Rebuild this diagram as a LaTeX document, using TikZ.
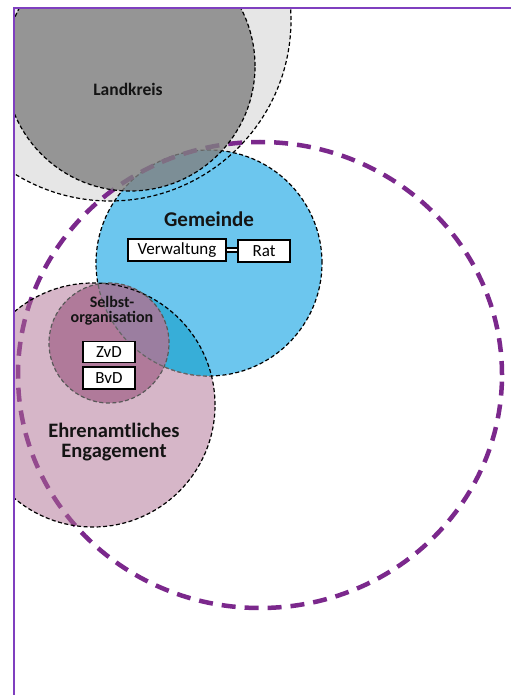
\documentclass[tikz,border=0pt]{standalone}
\usepackage{fontspec}
\setmainfont{Carlito}
\begin{document}
\begin{tikzpicture}[x=1pt,y=-1pt,
  outline/.style={draw=black, line width=1.2pt, dash pattern=on 4pt off 2.5pt},
  ring/.style={draw=ringpurple, line width=4.5pt, dash pattern=on 14pt off 9pt},
  box/.style={draw=black, line width=1.1pt, fill=white, inner sep=0pt,
    font=\fontsize{17}{19}\selectfont},
  label/.style={font=\bfseries\fontsize{#1}{#1}\selectfont, text=black!92, align=center}]
\definecolor{lgray}{HTML}{E6E6E6}
\definecolor{dgray}{HTML}{818181}
\definecolor{gblue}{HTML}{6CC6EE}
\definecolor{deepblue}{HTML}{37AED8}
\definecolor{rose}{RGB}{173,109,145}
\definecolor{mauve}{HTML}{B07A9A}
\definecolor{mauveblue}{HTML}{9B7EA0}
\definecolor{ringpurple}{HTML}{7B288C}
\definecolor{framepurple}{HTML}{7F3FBF}

\useasboundingbox (0,0) rectangle (511,695);

\begin{scope}
  \clip (14,8) rectangle (511,695);
  % Landkreis: outer halo and core
  \fill[lgray] (110,20) circle[radius=181pt];
  % Gemeinde
  \fill[gblue] (209,263) circle[radius=113pt];
  \draw[outline] (209,263) circle[radius=113pt];
  % large dashed ring
  \draw[ring] (260,375) ellipse[x radius=242pt, y radius=233pt];
  \fill[dgray, fill opacity=0.8] (130,66) circle[radius=125pt];
  \draw[outline] (130,66) circle[radius=125pt];
  \draw[outline] (110,20) circle[radius=181pt];
  % Ehrenamtliches Engagement
  \fill[rose, fill opacity=0.5] (93,405) circle[radius=122pt];
  \begin{scope}
    \clip (93,405) circle[radius=122pt];
    \fill[deepblue] (209,263) circle[radius=113pt];
  \end{scope}
  % Selbstorganisation
  \fill[mauve] (109,343) circle[radius=60pt];
  \begin{scope}
    \clip (109,343) circle[radius=60pt];
    \fill[mauveblue] (209,263) circle[radius=113pt];
  \end{scope}
  \begin{scope}
    \clip (93,405) circle[radius=122pt];
    \draw[outline, draw=black!60] (209,263) circle[radius=113pt];
  \end{scope}
  \draw[outline] (93,405) circle[radius=122pt];
  \draw[outline, draw=black!65] (109,343) circle[radius=60pt];
\end{scope}

% frame
\draw[framepurple, line width=2pt] (14,695) -- (14,8) -- (511,8);

% labels
\node[label=17.5] (lk) at (128,89) {Landkreis};
\node[label=21] (gem) at (209,219) {Gemeinde};
\node[box, minimum width=98pt, minimum height=22pt] (verw) at (177,250) {Verwaltung};
\node[box, minimum width=52pt, minimum height=22pt] (rat) at (264,251) {Rat};
\draw[line width=2.2pt, double distance=2pt] (verw.east) -- (verw.east -| rat.west);
\node[font=\bfseries\fontsize{16}{15}\selectfont, text=black!92, align=center] (selbst) at (112,311) {Selbst-\\organisation};
\node[box, minimum width=52pt, minimum height=21pt] (zvd) at (109,352) {ZvD};
\node[box, minimum width=52pt, minimum height=22pt] (bvd) at (109,378) {BvD};
\node[font=\bfseries\fontsize{20.5}{19.5}\selectfont, text=black!92, align=center] (ehren) at (114,442) {Ehrenamtliches\\Engagement};
\end{tikzpicture}
\end{document}
